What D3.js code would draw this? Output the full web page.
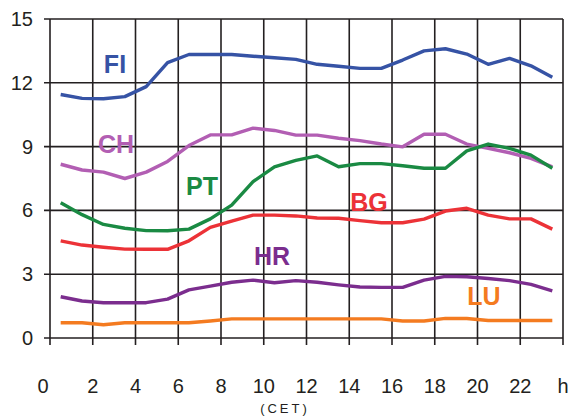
<!DOCTYPE html>
<html>
<head>
<meta charset="utf-8">
<script src="https://cdn.jsdelivr.net/npm/d3@7"></script>
<style>
  html, body { margin: 0; padding: 0; background: #fff; }
  svg text { font-family: "Liberation Sans", Arial, sans-serif; }
</style>
</head>
<body>
<svg id="chart" width="570" height="419"></svg>
<script>
// ---- data ----
const hours = [0.5,1.5,2.5,3.5,4.5,5.5,6.5,7.5,8.5,9.5,10.5,11.5,12.5,13.5,14.5,15.5,16.5,17.5,18.5,19.5,20.5,21.5,22.5,23.5];
const FI = [11.45,11.27,11.25,11.35,11.82,12.95,13.33,13.33,13.33,13.25,13.18,13.1,12.87,12.78,12.68,12.68,13.07,13.5,13.6,13.35,12.87,13.15,12.8,12.26];
const CH = [8.17,7.9,7.8,7.5,7.8,8.3,9.05,9.55,9.55,9.87,9.76,9.54,9.54,9.39,9.28,9.12,8.99,9.58,9.58,9.12,8.92,8.71,8.45,8.05];
const PT = [6.36,5.8,5.34,5.16,5.05,5.04,5.12,5.6,6.25,7.35,8.05,8.35,8.56,8.05,8.2,8.2,8.1,7.98,7.98,8.8,9.12,8.92,8.6,7.98];
const BG = [4.57,4.37,4.27,4.18,4.17,4.17,4.57,5.2,5.5,5.78,5.78,5.74,5.64,5.63,5.52,5.42,5.42,5.59,5.97,6.1,5.78,5.6,5.6,5.12];
const HR = [1.94,1.74,1.66,1.66,1.66,1.83,2.26,2.44,2.62,2.72,2.6,2.7,2.62,2.5,2.4,2.38,2.38,2.72,2.9,2.88,2.8,2.7,2.52,2.22];
const LU = [0.72,0.72,0.62,0.72,0.72,0.72,0.72,0.8,0.9,0.9,0.9,0.9,0.9,0.9,0.9,0.9,0.8,0.8,0.92,0.92,0.82,0.82,0.82,0.82];
const seriesNames = ["FI","CH","PT","BG","HR","LU"];
const seriesColors = ["#3653a5","#b25eb3","#1a8a43","#ec3237","#7b2d8e","#f47b20"];
const labelHour = [3.04, 3.09, 7.11, 14.92, 10.39, 20.3];   // label centre (hours)
const labelValue = [12.46, 8.70, 6.72, 5.97, 3.43, 1.55];   // label baseline (value)
const xTicks = [0,2,4,6,8,10,12,14,16,18,20,22,24];
const xTickLabels = ["0","2","4","6","8","10","12","14","16","18","20","22","h"];
const yTicks = [0,3,6,9,12,15];
const xTitle = "(CET)";

// ---- chart ----
const svg = d3.select("#chart");
const x = d3.scaleLinear().domain([0,24]).range([50,563]);
const y = d3.scaleLinear().domain([0,15]).range([338,19]);
const gridColor = "#231f20";

// horizontal grid
svg.append("g").selectAll("line").data(yTicks).join("line")
  .attr("x1", 44).attr("x2", 563)
  .attr("y1", d => y(d)).attr("y2", d => y(d))
  .attr("stroke", gridColor).attr("stroke-width", 1.6);
// vertical grid + ticks
svg.append("g").selectAll("line").data(xTicks).join("line")
  .attr("x1", d => x(d)).attr("x2", d => x(d))
  .attr("y1", y(15)).attr("y2", y(0) + 7)
  .attr("stroke", gridColor).attr("stroke-width", 1.6);

// y labels
svg.append("g").selectAll("text").data(yTicks).join("text")
  .attr("x", 33).attr("y", d => y(d))
  .attr("text-anchor", "end").attr("dominant-baseline", "central")
  .attr("font-size", 20).attr("fill", gridColor)
  .text(d => d);

// x labels
svg.append("g").selectAll("text").data(xTicks).join("text")
  .attr("x", d => x(d) - (d === 0 ? 7 : 0)).attr("y", 393)
  .attr("text-anchor", "middle")
  .attr("font-size", 20).attr("fill", gridColor)
  .text((d,i) => xTickLabels[i]);

svg.append("text")
  .attr("x", 285).attr("y", 413)
  .attr("text-anchor", "middle")
  .attr("font-size", 13).attr("letter-spacing", 3)
  .attr("fill", gridColor)
  .text(xTitle);

// lines
const allSeries = [FI, CH, PT, BG, HR, LU];
const line = d3.line().x((d,i) => x(hours[i])).y(d => y(d));
allSeries.forEach((s, k) => {
  svg.append("path")
    .datum(s)
    .attr("d", line)
    .attr("fill", "none")
    .attr("stroke", seriesColors[k])
    .attr("stroke-width", 3.4)
    .attr("stroke-linejoin", "round");
});

// series labels
svg.append("g").selectAll("text").data(seriesNames).join("text")
  .attr("x", (d,i) => x(labelHour[i]))
  .attr("y", (d,i) => y(labelValue[i]))
  .attr("text-anchor", "middle")
  .attr("font-size", 25).attr("font-weight", "bold")
  .attr("fill", (d,i) => seriesColors[i])
  .text(d => d);
</script>
</body>
</html>
